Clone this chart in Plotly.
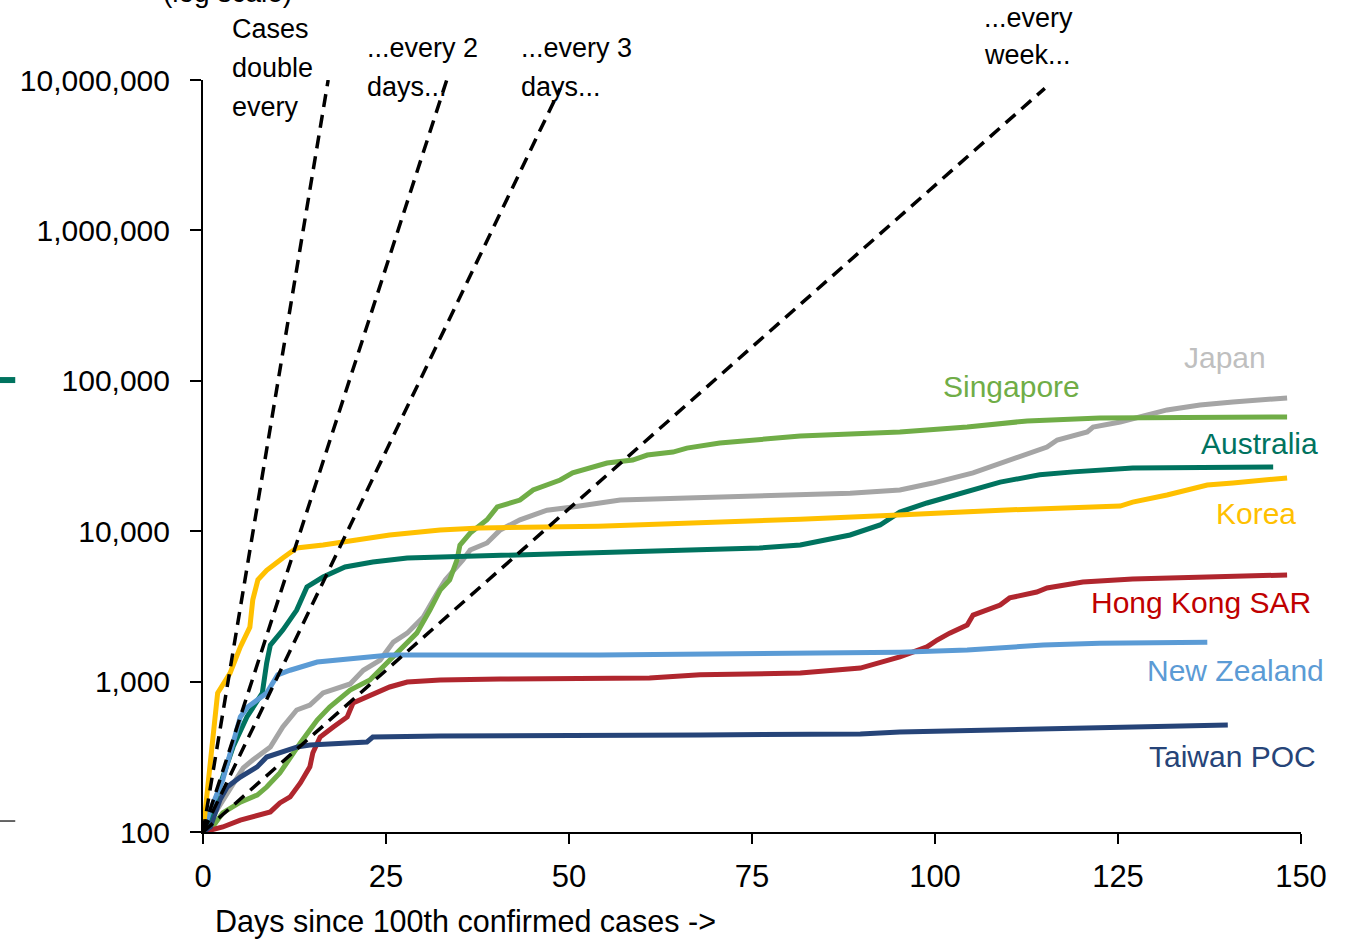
import plotly.graph_objects as go

# ---------------- data ----------------
korea_days = [0, 2.0, 3.7, 5.1, 6.4, 6.8, 7.5, 8.7, 10.9, 11.9, 12.8, 16.4, 21, 25.5, 32.4, 37.8, 54, 68, 81.6, 95, 109, 125.3, 127, 131.7, 137.2, 140.7, 148.1]
korea_cases = [100, 840, 1140, 1700, 2300, 3500, 4750, 5500, 6640, 7280, 7730, 8090, 8730, 9440, 10190, 10500, 10800, 11300, 12000, 12800, 13800, 14700, 15600, 17400, 20300, 20900, 22600]

australia_days = [0, 1.4, 2.7, 4.1, 6.0, 8.1, 8.7, 9.2, 10.9, 12.8, 14.2, 16.4, 19.4, 23.2, 27.9, 32.4, 54.2, 76, 81.6, 88.4, 92.5, 95.2, 98.9, 103.4, 108.9, 114.3, 118.9, 127, 146.2]
australia_cases = [100, 147, 232, 367, 582, 840, 1330, 1750, 2200, 2990, 4260, 4960, 5780, 6240, 6630, 6730, 7160, 7730, 8090, 9440, 11000, 13400, 15400, 17900, 21200, 23700, 24800, 26300, 26700]

singapore_days = [0, 1, 2.7, 5.1, 7.4, 8.7, 10.5, 11.9, 13.3, 14.6, 15.6, 17.3, 20.1, 22.8, 24.6, 25.5, 29.2, 31, 32.4, 33.7, 34.7, 35.1, 36.5, 38.8, 40.2, 43.3, 45.1, 48.8, 50.5, 55.2, 58.7, 60.7, 64.2, 66.1, 70.6, 81.6, 95.2, 104.4, 112.6, 122.5, 148.1]
singapore_cases = [100, 103, 134, 158, 176, 199, 247, 315, 391, 477, 555, 678, 879, 1025, 1250, 1390, 2100, 2990, 4060, 4740, 6440, 8090, 9720, 11900, 14500, 16100, 18800, 21900, 24400, 28400, 29700, 32100, 33600, 35700, 38600, 42900, 45700, 49300, 54100, 56600, 57500]

japan_days = [0, 5.5, 6.8, 9.2, 10.9, 12.8, 14.6, 16.4, 20.1, 21.9, 24.2, 26, 27.9, 30.1, 32, 33.1, 35.5, 36.5, 38.8, 40.6, 43.3, 47, 50.5, 57, 66.1, 81.6, 88.4, 95.2, 99.7, 105.2, 107.1, 110.7, 115.3, 116.7, 120.8, 121.6, 125.3, 131.7, 136.2, 140.7, 148.1]
japan_cases = [100, 267, 301, 367, 499, 647, 699, 840, 964, 1190, 1390, 1830, 2100, 2690, 3880, 4740, 6440, 7500, 8350, 10200, 11900, 13800, 14500, 16100, 16600, 17400, 17900, 18800, 20900, 24400, 26300, 30700, 36300, 40400, 45700, 49300, 53200, 64000, 69000, 72300, 76900]

hongkong_days = [0, 2.7, 5.1, 7.4, 9.2, 10.5, 11.9, 13.3, 14.6, 15, 16, 17.8, 19.7, 20.5, 22.4, 25.5, 27.9, 32.4, 40.6, 61, 67.9, 81.6, 89.8, 95.2, 98.9, 100.3, 102, 104.4, 105.2, 108.9, 110.2, 113.9, 115.3, 120.2, 127, 136.2, 148.1]
hongkong_cases = [100, 108, 120, 130, 136, 156, 171, 212, 271, 335, 428, 499, 582, 721, 791, 921, 994, 1025, 1040, 1057, 1110, 1140, 1230, 1460, 1700, 1890, 2100, 2380, 2770, 3230, 3600, 3940, 4190, 4590, 4810, 4960, 5120]

newzealand_days = [0, 1, 2.7, 4.1, 5.1, 6.1, 8.7, 10.2, 11.9, 15.6, 21, 25.5, 54.2, 95.2, 104.4, 114.8, 122.5, 137.2]
newzealand_cases = [100, 140, 222, 391, 582, 678, 840, 1110, 1190, 1350, 1440, 1500, 1500, 1570, 1620, 1750, 1800, 1830]

taiwan_days = [0, 1, 2.3, 3.3, 5.1, 7.4, 8.7, 10.9, 12.8, 14.6, 18.7, 22.4, 23.2, 32.4, 67.9, 89.8, 95.2, 108.9, 122.5, 140]
taiwan_cases = [100, 108, 163, 199, 232, 271, 315, 340, 367, 379, 391, 397, 428, 435, 441, 449, 462, 477, 491, 514]

# doubling reference lines: start / end points
ref_days = {"1": [0, 17.1], "2": [0, 33.3], "3": [0, 48.8], "7": [0, 115.0]}
ref_cases = {"1": [100, 1e7], "2": [100, 1e7], "3": [100, 8.8e6], "7": [100, 8.8e6]}

y_tickvals = [100, 1000, 10000, 100000, 1000000, 10000000]
y_ticktext = ["100", "1,000", "10,000", "100,000", "1,000,000", "10,000,000"]
x_tickvals = [0, 25, 50, 75, 100, 125, 150]

# label positions (day, log10 cases)
series = [
    ("Japan", japan_days, japan_cases, "#A5A5A5", "#BFBFBF", 139.6, 5.152),
    ("Singapore", singapore_days, singapore_cases, "#70AD47", "#70AD47", 110.4, 4.965),
    ("Hong Kong SAR", hongkong_days, hongkong_cases, "#B0262E", "#C00000", 136.3, 3.523),
    ("Taiwan POC", taiwan_days, taiwan_cases, "#264478", "#264478", 140.6, 2.499),
    ("Australia", australia_days, australia_cases, "#00735F", "#00735F", 144.3, 4.586),
    ("New Zealand", newzealand_days, newzealand_cases, "#5B9BD5", "#5B9BD5", 141.1, 3.077),
    ("Korea", korea_days, korea_cases, "#FFC000", "#FFC000", 143.9, 4.121),
]

# reference line captions: one entry per text line (text, day, paper y)
ref_text_lines = [
    ("Cases", 3.7, 1.068), ("double", 3.7, 1.016), ("every", 3.7, 0.964),
    ("...every 2", 22.1, 1.042), ("days...", 22.1, 0.991),
    ("...every 3", 43.2, 1.042), ("days...", 43.2, 0.991),
    ("...every", 106.4, 1.082), ("week...", 106.4, 1.033),
]

FONT = "Liberation Sans, Arial, sans-serif"

fig = go.Figure()
for name, xd, yd, col, lcol, lx, ly in series:
    fig.add_trace(go.Scatter(x=xd, y=yd, mode="lines", name=name,
                             line=dict(color=col, width=5),
                             cliponaxis=False, showlegend=False))
    fig.add_annotation(x=lx, y=ly, xref="x", yref="y", text=name, showarrow=False,
                       font=dict(family=FONT, size=30, color=lcol),
                       xanchor="center", yanchor="middle")

for k in ["1", "2", "3", "7"]:
    fig.add_trace(go.Scatter(x=ref_days[k], y=ref_cases[k], mode="lines",
                             line=dict(color="black", width=3.5, dash="13px,8px"),
                             cliponaxis=False, showlegend=False))

for t, x, y in ref_text_lines:
    fig.add_annotation(x=x, y=y, xref="x", yref="paper", text=t, showarrow=False,
                       align="left", xanchor="left", yanchor="middle",
                       font=dict(family=FONT, size=27, color="black"))

# partially visible axis caption at top
fig.add_annotation(x=3.4, y=1.1157, xref="x", yref="paper", text="(log scale)",
                   showarrow=False, xanchor="center", yanchor="middle",
                   font=dict(family=FONT, size=28, color="black"))

# x-axis title (left aligned)
fig.add_annotation(x=1.4, y=-0.1184, xref="x", yref="paper",
                   text="Days since 100th confirmed cases ->", showarrow=False,
                   xanchor="left", yanchor="middle",
                   font=dict(family=FONT, size=30.5, color="black"))

# small remnants at the left edge
fig.add_shape(type="line", xref="paper", yref="paper", x0=-0.185, x1=-0.171, y0=0.601, y1=0.601,
              line=dict(color="#00735F", width=6))
fig.add_shape(type="line", xref="paper", yref="paper", x0=-0.185, x1=-0.171, y0=0.0146, y1=0.0146,
              line=dict(color="#333333", width=1.5))

fig.update_layout(
    width=1345, height=942,
    margin=dict(l=203, r=44, t=80, b=110),
    paper_bgcolor="white", plot_bgcolor="white",
    showlegend=False,
    xaxis=dict(range=[0, 150], tickvals=x_tickvals, showgrid=False, zeroline=False,
               showline=True, linecolor="black", linewidth=2, automargin=False,
               ticks="outside", ticklen=10, tickwidth=2, tickcolor="black",
               tickfont=dict(family=FONT, size=31, color="black"),
               ticklabelstandoff=6),
    yaxis=dict(type="log", range=[2, 7], tickvals=y_tickvals, ticktext=y_ticktext,
               showgrid=False, zeroline=False, showline=True, linecolor="black", linewidth=2,
               automargin=False,
               ticks="outside", ticklen=11, tickwidth=2, tickcolor="black",
               tickfont=dict(family=FONT, size=30, color="black"),
               ticklabelstandoff=14),
)

fig.write_html("out.html")
